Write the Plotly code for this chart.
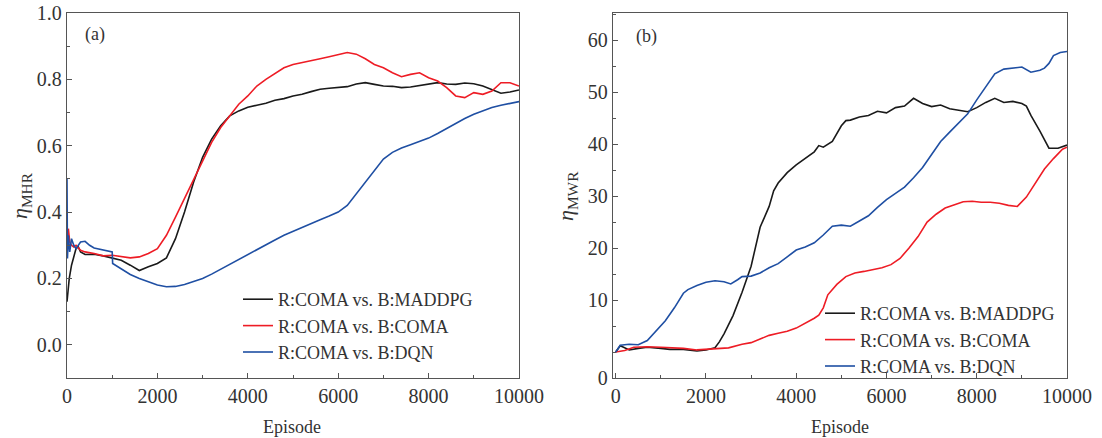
import plotly.graph_objects as go

# ---------------- data: panel (a) MHR ----------------
names = ["R:COMA vs. B:MADDPG", "R:COMA vs. B:COMA", "R:COMA vs. B:DQN"]

a_black_x = [0, 50, 100, 150, 200, 250, 300, 400, 600, 800, 1000, 1200, 1400, 1600, 1800, 2000,
             2200, 2400, 2600, 2800, 3000, 3200, 3400, 3600, 3800, 4000, 4200, 4400, 4600, 4800,
             5000, 5200, 5400, 5600, 5800, 6000, 6200, 6400, 6600, 6800, 7000, 7200, 7400, 7600,
             7800, 8000, 8200, 8400, 8600, 8800, 9000, 9200, 9400, 9600, 9800, 10000]
a_black_y = [0.13, 0.20, 0.24, 0.27, 0.29, 0.295, 0.28, 0.272, 0.273, 0.268, 0.262, 0.255, 0.24,
             0.224, 0.235, 0.245, 0.262, 0.32, 0.40, 0.49, 0.565, 0.62, 0.66, 0.69, 0.705, 0.716,
             0.722, 0.728, 0.737, 0.742, 0.75, 0.755, 0.763, 0.77, 0.773, 0.775, 0.778, 0.786,
             0.79, 0.785, 0.78, 0.779, 0.775, 0.777, 0.781, 0.785, 0.79, 0.786, 0.785, 0.789,
             0.787, 0.78, 0.768, 0.758, 0.762, 0.768]

a_red_x = [0, 30, 60, 100, 150, 200, 300, 400, 600, 800, 1000, 1200, 1400, 1600, 1800, 2000,
           2200, 2400, 2600, 2800, 3000, 3200, 3400, 3600, 3800, 4000, 4200, 4400, 4600, 4800,
           5000, 5200, 5400, 5600, 5800, 6000, 6200, 6400, 6600, 6800, 7000, 7200, 7400, 7600,
           7800, 8000, 8200, 8400, 8600, 8800, 9000, 9200, 9400, 9600, 9800, 10000]
a_red_y = [0.27, 0.35, 0.31, 0.30, 0.295, 0.30, 0.285, 0.28, 0.275, 0.268, 0.27, 0.265, 0.262,
           0.265, 0.275, 0.29, 0.33, 0.385, 0.44, 0.495, 0.55, 0.61, 0.655, 0.69, 0.725, 0.75,
           0.78, 0.80, 0.818, 0.835, 0.845, 0.85, 0.856, 0.862, 0.868, 0.875, 0.881, 0.876,
           0.862, 0.845, 0.835, 0.82, 0.808, 0.815, 0.82, 0.805, 0.795, 0.775, 0.75, 0.745,
           0.76, 0.755, 0.765, 0.79, 0.79, 0.78]

a_blue_x = [0, 10, 30, 60, 100, 150, 200, 300, 400, 500, 600, 800, 1000, 1010, 1200, 1400, 1600,
            1800, 2000, 2200, 2400, 2600, 2800, 3000, 3200, 3400, 3600, 3800, 4000, 4200, 4400,
            4600, 4800, 5000, 5200, 5400, 5600, 5800, 6000, 6200, 6400, 6600, 6800, 7000, 7200,
            7400, 7600, 7800, 8000, 8200, 8400, 8600, 8800, 9000, 9200, 9400, 9600, 9800, 10000]
a_blue_y = [0.50, 0.26, 0.33, 0.28, 0.32, 0.30, 0.29, 0.31, 0.312, 0.30, 0.292, 0.285, 0.28,
            0.245, 0.228, 0.212, 0.20, 0.19, 0.18, 0.175, 0.176, 0.182, 0.19, 0.20, 0.213, 0.228,
            0.243, 0.258, 0.273, 0.288, 0.302, 0.316, 0.33, 0.342, 0.355, 0.367, 0.377, 0.388,
            0.40, 0.42, 0.455, 0.49, 0.525, 0.56, 0.58, 0.593, 0.603, 0.612, 0.623, 0.637, 0.652,
            0.668, 0.682, 0.695, 0.706, 0.715, 0.722, 0.728, 0.733]

# ---------------- data: panel (b) MWR ----------------
b_black_x = [0, 100, 150, 300, 500, 700, 1000, 1200, 1500, 1800, 2000, 2200, 2300, 2400, 2600,
             2800, 3000, 3200, 3400, 3500, 3600, 3800, 4000, 4200, 4400, 4500, 4600, 4800, 4900,
             5000, 5100, 5200, 5400, 5600, 5800, 6000, 6200, 6400, 6600, 6800, 7000, 7200, 7400,
             7600, 7800, 8000, 8200, 8400, 8600, 8800, 9000, 9100, 9200, 9400, 9600, 9800, 10000]
b_black_y = [0, 1.2, 1.0, 0.4, 0.7, 0.9, 0.7, 0.5, 0.5, 0.2, 0.4, 0.8, 2.0, 3.5, 7.0, 11.5, 16.5,
             24, 28, 31, 32.5, 34.5, 36, 37.2, 38.5, 39.7, 39.4, 40.5, 42, 43.5, 44.5, 44.6, 45.2,
             45.5, 46.3, 46, 47, 47.3, 48.8, 47.8, 47.2, 47.5, 46.8, 46.5, 46.2, 47, 48, 48.8, 48,
             48.2, 47.8, 47.3, 45.5, 42.5, 39.2, 39.2, 39.8]

b_red_x = [0, 200, 400, 700, 1000, 1500, 1800, 2000, 2200, 2500, 2800, 3000, 3200, 3400, 3600,
           3800, 4000, 4200, 4400, 4500, 4600, 4700, 4900, 5100, 5300, 5500, 5700, 5900, 6100,
           6300, 6500, 6700, 6900, 7100, 7300, 7500, 7700, 7900, 8100, 8300, 8500, 8700, 8900,
           9100, 9300, 9500, 9700, 9900, 10000]
b_red_y = [0, 0.3, 0.9, 1.0, 0.9, 0.7, 0.4, 0.5, 0.6, 0.8, 1.5, 1.8, 2.5, 3.2, 3.6, 4.0, 4.6, 5.5,
           6.5, 7.1, 8.5, 11, 13, 14.5, 15.2, 15.5, 15.8, 16.2, 16.8, 18, 20, 22.2, 25, 26.5,
           27.7, 28.3, 28.9, 29, 28.8, 28.8, 28.6, 28.2, 28, 29.8, 32.5, 35.2, 37.2, 39, 39.4]

b_blue_x = [0, 100, 300, 500, 700, 900, 1100, 1300, 1500, 1600, 1800, 2000, 2200, 2400, 2550, 2700,
            2800, 3000, 3200, 3400, 3600, 3800, 4000, 4200, 4400, 4600, 4800, 5000, 5200, 5400,
            5600, 5800, 6000, 6200, 6400, 6600, 6800, 7000, 7200, 7400, 7600, 7800, 8000, 8200,
            8400, 8600, 8800, 9000, 9200, 9400, 9500, 9600, 9700, 9850, 10000]
b_blue_y = [0, 1.3, 1.5, 1.4, 2.2, 4, 6, 8.5, 11.3, 12, 12.8, 13.4, 13.7, 13.5, 13.1, 13.9, 14.5,
            14.6, 15.2, 16.2, 17, 18.3, 19.6, 20.2, 21, 22.5, 24.2, 24.4, 24.2, 25.2, 26.2, 27.8,
            29.3, 30.5, 31.7, 33.5, 35.5, 38, 40.5, 42.3, 44, 45.8, 48.5, 51, 53.5, 54.4, 54.6,
            54.8, 53.8, 54.2, 54.6, 55.5, 57, 57.6, 57.8]

a_yticks = [0.0, 0.2, 0.4, 0.6, 0.8, 1.0]
a_yticktext = ["0.0", "0.2", "0.4", "0.6", "0.8", "1.0"]
b_yticks = [-5, 10, 20, 30, 40, 50, 60]
b_yticktext = ["0", "10", "20", "30", "40", "50", "60"]
xticks = [0, 2000, 4000, 6000, 8000, 10000]
xticktext = ["0", "2000", "4000", "6000", "8000", "10000"]

colors = ["#1a1a1a", "#ee1c25", "#1f4fa3"]
FONT = "Liberation Serif"
TXT = "#333333"
W, H = 1102, 438
T, B = 13, 60
PH = H - T - B


def py(ypx):
    """pixel row -> paper y (paper spans the plot area)"""
    return (H - B - ypx) / PH


fig = go.Figure()
for xs, ys, c, n in [(a_black_x, a_black_y, colors[0], names[0]),
                     (a_red_x, a_red_y, colors[1], names[1]),
                     (a_blue_x, a_blue_y, colors[2], names[2])]:
    fig.add_trace(go.Scatter(x=xs, y=ys, mode="lines", name=n, line=dict(color=c, width=1.6),
                             xaxis="x", yaxis="y", legend="legend"))
for xs, ys, c, n in [(b_black_x, b_black_y, colors[0], names[0]),
                     (b_red_x, b_red_y, colors[1], names[1]),
                     (b_blue_x, b_blue_y, colors[2], names[2])]:
    fig.add_trace(go.Scatter(x=xs, y=ys, mode="lines", name=n, line=dict(color=c, width=1.6),
                             xaxis="x2", yaxis="y2", legend="legend2"))

axcommon = dict(showgrid=False, zeroline=False, showline=True, mirror=True, linecolor="#555555",
                linewidth=1.3, ticks="inside", ticklen=5, tickcolor="#555555", tickwidth=1,
                tickfont=dict(family=FONT, size=20, color=TXT))
minor_common = dict(ticks="inside", ticklen=3, tickcolor="#555555")

fig.update_layout(
    width=W, height=H, plot_bgcolor="white", paper_bgcolor="white",
    margin=dict(l=0, r=0, t=T, b=B, autoexpand=False),
    font=dict(family=FONT, size=18, color=TXT),
    xaxis=dict(domain=[67 / W, 519 / W], range=[0, 10000], tickvals=xticks, ticktext=xticktext,
               minor=dict(dtick=1000, tick0=0, **minor_common), anchor="y", **axcommon),
    yaxis=dict(range=[-0.1, 1.0], tickvals=a_yticks, ticktext=a_yticktext,
               minor=dict(dtick=0.1, tick0=0, **minor_common), anchor="x", **axcommon),
    xaxis2=dict(domain=[613 / W, 1067 / W], range=[-60, 10000], tickvals=xticks,
                ticktext=xticktext,
                minor=dict(dtick=1000, tick0=0, **minor_common), anchor="y2", **axcommon),
    yaxis2=dict(range=[-5, 65.2], tickvals=b_yticks, ticktext=b_yticktext,
                minor=dict(dtick=5, tick0=0, **minor_common), anchor="x2", **axcommon),
    legend=dict(x=238 / W, y=py(281), xanchor="left", yanchor="top",
                bgcolor="rgba(0,0,0,0)", itemwidth=30, tracegroupgap=0,
                font=dict(family=FONT, size=18, color=TXT)),
    legend2=dict(x=820 / W, y=py(295), xanchor="left", yanchor="top",
                 bgcolor="rgba(0,0,0,0)", itemwidth=30, tracegroupgap=0,
                 font=dict(family=FONT, size=18, color=TXT)),
    showlegend=True,
)

ann = [
    dict(text="(a)", x=95 / W, y=py(35)),
    dict(text="(b)", x=646 / W, y=py(37)),
    dict(text="Episode", x=292 / W, y=py(427)),
    dict(text="Episode", x=840 / W, y=py(427)),
]
for a in ann:
    fig.add_annotation(xref="paper", yref="paper", showarrow=False, xanchor="center",
                       yanchor="middle", font=dict(family=FONT, size=18, color=TXT), **a)
fig.add_annotation(xref="paper", yref="paper", showarrow=False, textangle=-90,
                   x=21 / W, y=py(196), xanchor="center", yanchor="middle",
                   text="<i>η</i><sub>MHR</sub>", font=dict(family=FONT, size=22, color=TXT))
fig.add_annotation(xref="paper", yref="paper", showarrow=False, textangle=-90,
                   x=567 / W, y=py(196), xanchor="center", yanchor="middle",
                   text="<i>η</i><sub>MWR</sub>", font=dict(family=FONT, size=22, color=TXT))

fig.write_html("out.html")
